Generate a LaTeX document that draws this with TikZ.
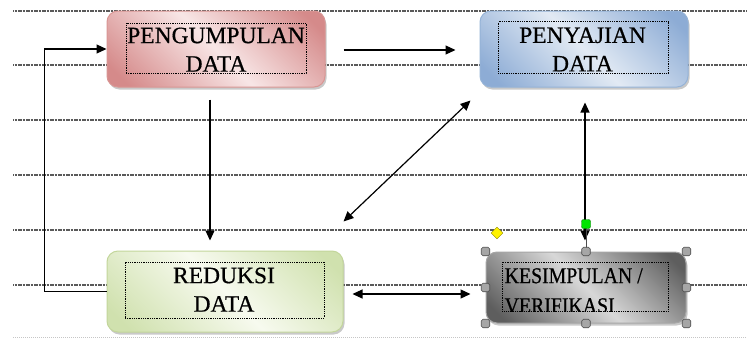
\documentclass[tikz,border=0pt]{standalone}
\usepackage{fontspec}
\usepackage{graphicx}
\setmainfont{Liberation Serif}
\newfontfamily\heavy{Liberation Serif}[FakeBold=0.5]
\usetikzlibrary{arrows.meta,calc,shadows,shapes.geometric}
\definecolor{rdark}{HTML}{D58A8A}
\definecolor{rlight}{HTML}{F8E6E6}
\definecolor{rline}{HTML}{D99694}
\definecolor{bdark}{HTML}{8DACD5}
\definecolor{blight}{HTML}{E2EAF4}
\definecolor{bline}{HTML}{95B3D7}
\definecolor{gdark}{HTML}{D0E1AE}
\definecolor{glight}{HTML}{F7FAEF}
\definecolor{gline}{HTML}{C3D69B}
\definecolor{kdark}{HTML}{5E5E5E}
\definecolor{klight}{HTML}{D8D8D8}
\definecolor{kline}{HTML}{A6A6A6}
\definecolor{rulecol}{HTML}{5A5A5A}
\pgfdeclarehorizontalshading{redsh}{100bp}{color(0bp)=(rdark); color(20bp)=(rdark); color(50bp)=(rlight); color(80bp)=(rdark); color(100bp)=(rdark)}
\pgfdeclarehorizontalshading{bluesh}{100bp}{color(0bp)=(bdark); color(20bp)=(bdark); color(50bp)=(blight); color(80bp)=(bdark); color(100bp)=(bdark)}
\pgfdeclarehorizontalshading{greensh}{100bp}{color(0bp)=(gdark); color(20bp)=(gdark); color(50bp)=(glight); color(80bp)=(gdark); color(100bp)=(gdark)}
\pgfdeclarehorizontalshading{graysh}{100bp}{color(0bp)=(kdark); color(20bp)=(kdark); color(50bp)=(klight); color(80bp)=(kdark); color(100bp)=(kdark)}
\begin{document}
\begin{tikzpicture}[x=1pt,y=-1pt,
  ruleline/.style={draw=rulecol,line width=2.2pt,dash pattern=on 1.2pt off 0.4pt},
  box/.style={rounded corners=11pt, line width=1pt, shading angle=45,
    drop shadow={shadow xshift=1.5pt,shadow yshift=-2.5pt,opacity=0.35,fill=black!60}},
  inbox/.style={draw, densely dotted, line width=0.8pt, inner sep=0pt},
  lbl/.style={inner sep=0pt, align=center, anchor=north, font=\heavy\fontsize{23.5}{28.5}\selectfont},
  arr/.style={line width=1.2pt, -{Triangle[length=10pt,width=9pt]}},
  darr/.style={line width=1.2pt, {Triangle[length=10pt,width=9pt]}-{Triangle[length=10pt,width=9pt]}},
  handle/.style={draw=gray!60!black, fill=gray!70, minimum size=8.5pt, inner sep=0pt, rounded corners=1.8pt, line width=0.6pt}]
\useasboundingbox (0,0) rectangle (747,338);
\fill[white] (0,0) rectangle (747,338);
% background rules
\foreach \yy in {11,65,120,175,230,285} {\draw[ruleline] (13,\yy) -- (747,\yy);}
\draw[gray!45, line width=0.8pt, dash pattern=on 1pt off 1pt] (13,337) -- (747,337);
% boxes
\node[box, shading=redsh, draw=rline, minimum width=218pt, minimum height=76pt] (p) at (216,49) {};
\node[box, shading=bluesh, draw=bline, minimum width=208pt, minimum height=76pt] (s) at (584,49) {};
\node[box, shading=greensh, draw=gline, minimum width=236pt, minimum height=81pt] (r) at (225,291.5) {};
\node[box, shading=graysh, draw=kline, minimum width=200pt, minimum height=71pt] (k) at (586,287.5) {};
% inner text frames and texts
\node[inbox, minimum width=180pt, minimum height=50pt] (pi) at (216,48) {};
\node[lbl] (pl) at (216,27.4) {PENGUMPULAN\\DATA};
\node[inbox, minimum width=170pt, minimum height=51.6pt] (si) at (583.3,47.5) {};
\node[lbl] (sl) at (582.5,27.2) {PENYAJIAN\\DATA};
\node[inbox, minimum width=199pt, minimum height=56pt] (ri) at (224.5,290) {};
\node[lbl] (rl) at (224,267.4) {REDUKSI\\DATA};
\node[inbox, minimum width=166pt, minimum height=49.3pt] (ki) at (585.3,286.7) {};
\begin{scope}
\clip (ki.north west) rectangle (ki.south east);
\node[inner sep=0pt, align=left, anchor=north west, font=\heavy\fontsize{22.5}{30}\selectfont] (kl) at (504.5,268)
  {\scalebox{0.88}[1]{KESIMPULAN /}\\\scalebox{0.88}[1]{VERIFIKASI}};
\end{scope}
% connectors
\draw[arr] (r.west) -- ++(-62,0) |- (p.west);
\draw[arr] ($(p.east)+(18,1)$) -- ($(s.west)+(-24,1)$);
\draw[arr] ($(p.south)+(-6,12)$) -- ($(r.north)+(-15,-10)$);
\draw[darr] ($(s.south west)+(-9,13)$) -- ($(r.north east)+(0,-29)$);
\draw[darr] ($(s.south)+(1,15)$) -- ($(k.north)+(-1,-11)$);
\draw[darr] ($(r.east)+(9,2.5)$) -- ($(k.west)+(-15,6.5)$);
% selection handles
\draw[gray!60!black, line width=0.6pt] (586,224) -- (k.north);
\node[draw=green!45!black, fill=green!90!black, rounded corners=2pt, minimum size=9pt, inner sep=0pt] (g) at (586,224) {};
\node[diamond, draw=olive, fill=yellow, minimum size=12pt, inner sep=0pt] (y) at (497,233) {};
\node[handle] (h1) at (k.north west) {};
\node[handle] (h2) at (k.north) {};
\node[handle] (h3) at (k.north east) {};
\node[handle] (h4) at (k.west) {};
\node[handle] (h5) at (k.east) {};
\node[handle] (h6) at (k.south west) {};
\node[handle] (h7) at (k.south) {};
\node[handle] (h8) at (k.south east) {};
\end{tikzpicture}
\end{document}
